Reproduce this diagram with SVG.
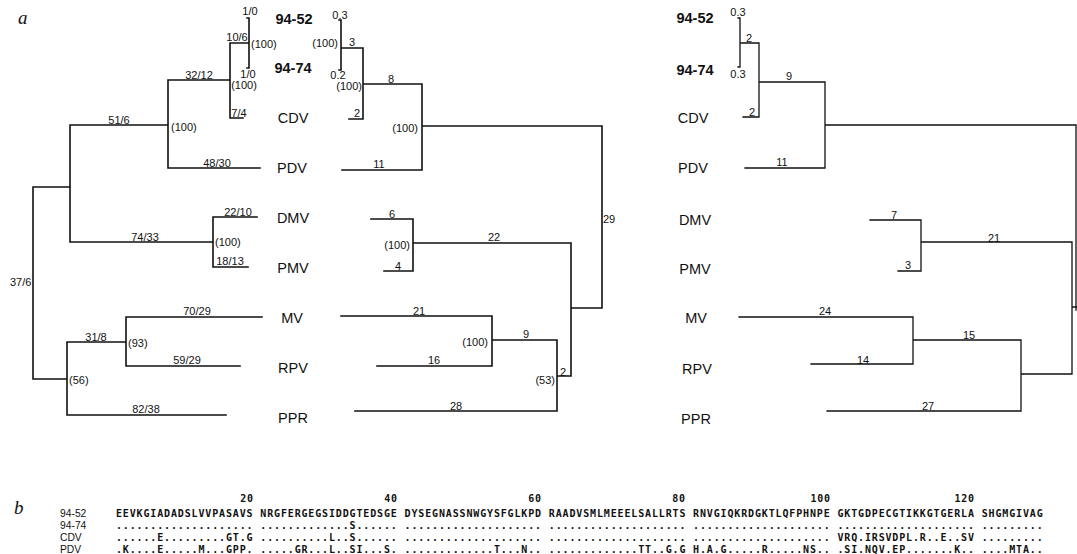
<svg xmlns="http://www.w3.org/2000/svg" width="1077" height="554" viewBox="0 0 1077 554">
<style>
.ln{fill:none;stroke:#111;stroke-width:1.6;stroke-linecap:square}
.lr{fill:none;stroke:#111;stroke-width:1.3;stroke-linecap:square}
.tx{font-family:"Liberation Sans",Arial,sans-serif;font-size:14.5px;fill:#111;text-anchor:middle}
.bd{font-weight:bold}
.bl{font-family:"Liberation Sans",Arial,sans-serif;font-size:11px;fill:#111;text-anchor:middle}
.st{text-anchor:start}
.en{text-anchor:end}
.pl{font-family:"Liberation Serif","Times New Roman",serif;font-style:italic;font-size:19px;fill:#111}
.sq{font-family:"DejaVu Sans Mono",monospace;font-size:10px;font-weight:bold;letter-spacing:0.85px;fill:#111;white-space:pre}
.sl{font-family:"Liberation Sans",Arial,sans-serif;font-size:10.3px;fill:#111}
</style>
<rect width="1077" height="554" fill="#fff"/>
<text class="pl" x="18" y="24">a</text>
<text class="pl" x="14" y="514">b</text>

<g id="connectors">
<path class="ln" d="M247,18H249V68H247 M230,43H249 M230,43V118H243 M168,80H230 M168,80V168H260 M70,125H168 M70,125V242H213 M213,217V267 M213,217H257 M213,267H248 M33,187H70 M33,187V379H67 M67,342V415 M67,342H126 M126,317V366 M126,317H262 M126,366H240 M67,415H226"/>
<path class="ln" d="M339,20H341V70H339 M341,48H363 M363,48V119H349 M363,84H422 M422,84V170H342 M422,126H602 M602,126V308H571 M571,243V376H557 M413,243H571 M413,219V271 M371,219H413 M384,271H413 M557,340V411 M492,340H557 M492,316V366 M341,316H492 M377,366H492 M355,411H557"/>
<path class="lr" d="M738,18H740V67H738 M740,43H759 M759,43V117H743 M759,82H825 M825,82V168H745 M825,125H1076V310 M1072,307H1077 M1072,242V374 M921,242H1072 M921,220V271 M870,220H921 M898,271H921 M1021,374H1072 M1021,340V411 M913,340H1021 M913,317V364 M739,317H913 M811,364H913 M827,411H1021"/>
</g>

<g id="branch-labels">
<text class="bl" x="250" y="15">1/0</text>
<text class="bl" x="237" y="41">10/6</text>
<text class="bl st" x="251" y="48">(100)</text>
<text class="bl" x="248" y="78">1/0</text>
<text class="bl" x="244" y="89">(100)</text>
<text class="bl" x="199" y="79">32/12</text>
<text class="bl" x="239" y="117">7/4</text>
<text class="bl st" x="171" y="131">(100)</text>
<text class="bl" x="119" y="124">51/6</text>
<text class="bl" x="217" y="167">48/30</text>
<text class="bl" x="238" y="216">22/10</text>
<text class="bl" x="145" y="241">74/33</text>
<text class="bl st" x="215" y="246">(100)</text>
<text class="bl" x="230" y="265">18/13</text>
<text class="bl st" x="10" y="286">37/6</text>
<text class="bl" x="197" y="315">70/29</text>
<text class="bl" x="96" y="341">31/8</text>
<text class="bl st" x="128" y="347">(93)</text>
<text class="bl" x="187" y="364">59/29</text>
<text class="bl st" x="69" y="384">(56)</text>
<text class="bl" x="146" y="413">82/38</text>

<text class="bl" x="340" y="19">0.3</text>
<text class="bl en" x="338" y="47">(100)</text>
<text class="bl" x="352" y="46">3</text>
<text class="bl" x="338" y="79">0.2</text>
<text class="bl en" x="362" y="90">(100)</text>
<text class="bl" x="391" y="83">8</text>
<text class="bl" x="357" y="117">2</text>
<text class="bl en" x="418" y="132">(100)</text>
<text class="bl" x="379" y="168">11</text>
<text class="bl st" x="603" y="223">29</text>
<text class="bl" x="392" y="218">6</text>
<text class="bl" x="494" y="241">22</text>
<text class="bl en" x="410" y="249">(100)</text>
<text class="bl" x="398" y="270">4</text>
<text class="bl" x="419" y="315">21</text>
<text class="bl en" x="488" y="346">(100)</text>
<text class="bl" x="526" y="338">9</text>
<text class="bl" x="434" y="364">16</text>
<text class="bl en" x="555" y="384">(53)</text>
<text class="bl" x="563" y="376">2</text>
<text class="bl" x="456" y="410">28</text>

<text class="bl" x="738" y="16">0.3</text>
<text class="bl" x="749" y="42">2</text>
<text class="bl" x="738" y="78">0.3</text>
<text class="bl" x="789" y="80">9</text>
<text class="bl" x="752" y="116">2</text>
<text class="bl" x="782" y="166">11</text>
<text class="bl" x="894" y="219">7</text>
<text class="bl" x="994" y="242">21</text>
<text class="bl" x="908" y="269">3</text>
<text class="bl" x="825" y="315">24</text>
<text class="bl" x="969" y="339">15</text>
<text class="bl" x="863" y="364">14</text>
<text class="bl" x="928" y="410">27</text>
</g>

<g id="node-94-52"><text class="tx bd" x="294" y="24">94-52</text><text class="tx bd" x="695" y="23">94-52</text></g>
<g id="node-94-74"><text class="tx bd" x="293" y="73">94-74</text><text class="tx bd" x="695" y="75">94-74</text></g>
<g id="node-CDV"><text class="tx" x="293" y="123">CDV</text><text class="tx" x="693" y="123">CDV</text></g>
<g id="node-PDV"><text class="tx" x="292" y="173">PDV</text><text class="tx" x="693" y="173">PDV</text></g>
<g id="node-DMV"><text class="tx" x="293" y="223">DMV</text><text class="tx" x="695" y="225">DMV</text></g>
<g id="node-PMV"><text class="tx" x="293" y="273">PMV</text><text class="tx" x="695" y="274">PMV</text></g>
<g id="node-MV"><text class="tx" x="292" y="323">MV</text><text class="tx" x="696" y="323">MV</text></g>
<g id="node-RPV"><text class="tx" x="293" y="373">RPV</text><text class="tx" x="697" y="374">RPV</text></g>
<g id="node-PPR"><text class="tx" x="293" y="423">PPR</text><text class="tx" x="696" y="424">PPR</text></g>

<g id="alignment">
<text class="sq" x="254" y="502" text-anchor="end">20</text>
<text class="sq" x="398" y="502" text-anchor="end">40</text>
<text class="sq" x="542" y="502" text-anchor="end">60</text>
<text class="sq" x="686" y="502" text-anchor="end">80</text>
<text class="sq" x="831" y="502" text-anchor="end">100</text>
<text class="sq" x="975" y="502" text-anchor="end">120</text>
<text class="sl" x="60" y="517">94-52</text>
<text class="sl" x="60" y="529">94-74</text>
<text class="sl" x="60" y="541">CDV</text>
<text class="sl" x="60" y="553">PDV</text>
<text class="sq" x="116" y="517">EEVKGIADADSLVVPASAVS NRGFERGEGSIDDGTEDSGE DYSEGNASSNWGYSFGLKPD RAADVSMLMEEELSALLRTS RNVGIQKRDGKTLQFPHNPE GKTGDPECGTIKKGTGERLA SHGMGIVAG</text>
<text class="sq" x="116" y="529">.................... .............S...... .................... .................... .................... .................... .........</text>
<text class="sq" x="116" y="541">......E.........GT.G ..........L..S...... .................... .................... .................... VRQ.IRSVDPL.R..E..SV .........</text>
<text class="sq" x="116" y="553">.K....E.....M...GPP. .....GR...L..SI...S. .............T...N.. .............TT..G.G H.A.G.....R.....NS.. .SI.NQV.EP.......K.. ....MTA..</text>
</g>
</svg>
